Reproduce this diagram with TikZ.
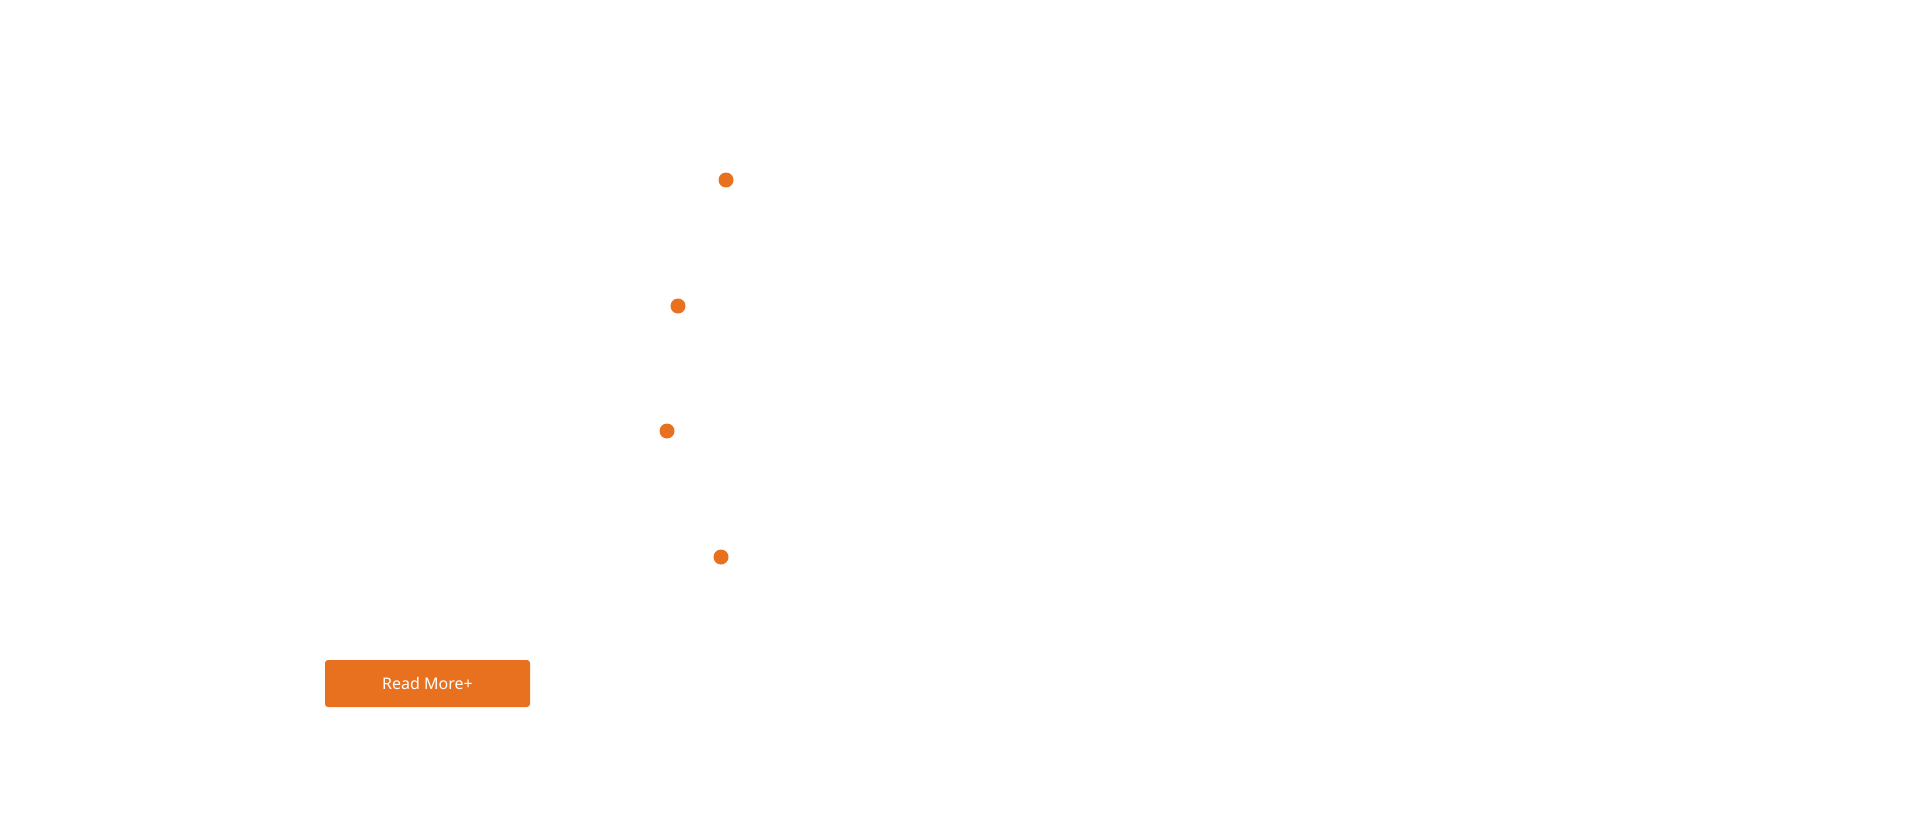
\documentclass[tikz,border=0pt]{standalone}
\usepackage{fontspec}
\setmainfont{Noto Sans}
\definecolor{btnorange}{HTML}{E8711F}
\tikzset{
  dot/.style = {circle, fill = btnorange, draw = none, inner sep = 0pt, minimum size = 15pt},
  button/.style = {rectangle, rounded corners = 3pt, fill = btnorange, draw = none,
    text = white, minimum width = 205pt, minimum height = 47pt,
    font = \fontsize{16}{18}\selectfont}
}
\begin{document}
\begin{tikzpicture}[x = 1pt, y = -1pt]
\useasboundingbox (0,0) rectangle (1920,830);
\node[dot] (d1) at (726,180) {};
\node[dot] (d2) at (678,306) {};
\node[dot] (d3) at (667,431) {};
\node[dot] (d4) at (721,557) {};
\node[button] (more) at (427.5,683.5) {Read More+};
\end{tikzpicture}
\end{document}
